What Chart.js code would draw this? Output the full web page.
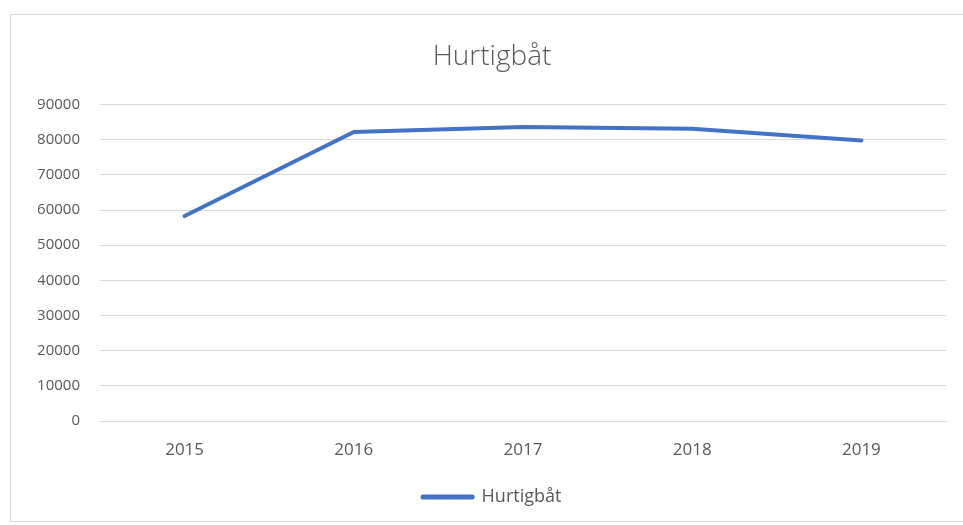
<!DOCTYPE html>
<html>
<head>
<meta charset="utf-8">
<script src="https://cdn.jsdelivr.net/npm/chart.js@4/dist/chart.umd.min.js"></script>
<style>
  html, body { margin: 0; padding: 0; background: #ffffff; }
  #wrap { position: relative; width: 963px; height: 525px; overflow: hidden; }
  #frame { position: absolute; left: 10px; top: 14px; width: 970px; height: 508px; border: 1px solid #d9d9d9; box-sizing: border-box; }
  #c { position: absolute; left: 0; top: 0; }
</style>
</head>
<body>
<div id="wrap">
  <div id="frame"></div>
  <canvas id="c" width="963" height="525"></canvas>
</div>
<script>
const chartTitle = "Hurtigbåt";
const years = ["2015", "2016", "2017", "2018", "2019"];
const seriesName = "Hurtigbåt";
const seriesValues = [58300, 82200, 83600, 83100, 79800];
const yMin = 0;
const yMax = 90000;
const yStep = 10000;

const textColor = "#595959";
const lineColor = "#4472C4";
const gridColor = "#d9d9d9";
const fontFamily = "'Open Sans', 'Liberation Sans', sans-serif";

new Chart(document.getElementById("c"), {
  type: "line",
  data: {
    labels: years,
    datasets: [{
      label: seriesName,
      data: seriesValues,
      borderColor: lineColor,
      backgroundColor: lineColor,
      borderWidth: 4,
      pointRadius: 0,
      pointHoverRadius: 0,
      tension: 0,
      borderCapStyle: "round",
      borderJoinStyle: "round"
    }]
  },
  options: {
    responsive: false,
    animation: false,
    devicePixelRatio: 1,
    layout: { padding: { left: 38, right: 17, top: 30, bottom: 9 } },
    plugins: {
      title: {
        display: true,
        text: chartTitle,
        color: textColor,
        font: { family: fontFamily, size: 28, weight: "300" },
        padding: { top: 10, bottom: 31 }
      },
      legend: {
        display: true,
        position: "bottom",
        labels: {
          color: textColor,
          font: { family: fontFamily, size: 18 },
          boxWidth: 50,
          boxHeight: 1,
          padding: 10
        }
      },
      tooltip: { enabled: false }
    },
    scales: {
      x: {
        offset: true,
        grid: { display: false, drawTicks: false },
        border: { display: true, color: gridColor, width: 1 },
        ticks: { color: textColor, font: { family: fontFamily, size: 17 }, padding: 19 },
        afterFit(scale) { scale.height = 57; }
      },
      y: {
        min: yMin,
        max: yMax,
        ticks: {
          stepSize: yStep,
          color: textColor,
          font: { family: fontFamily, size: 15 },
          padding: 20,
          callback: (v) => String(v)
        },
        grid: { color: gridColor, drawTicks: false },
        border: { display: false },
        afterFit(scale) { scale.width = 62; }
      }
    }
  }
});
</script>
</body>
</html>
